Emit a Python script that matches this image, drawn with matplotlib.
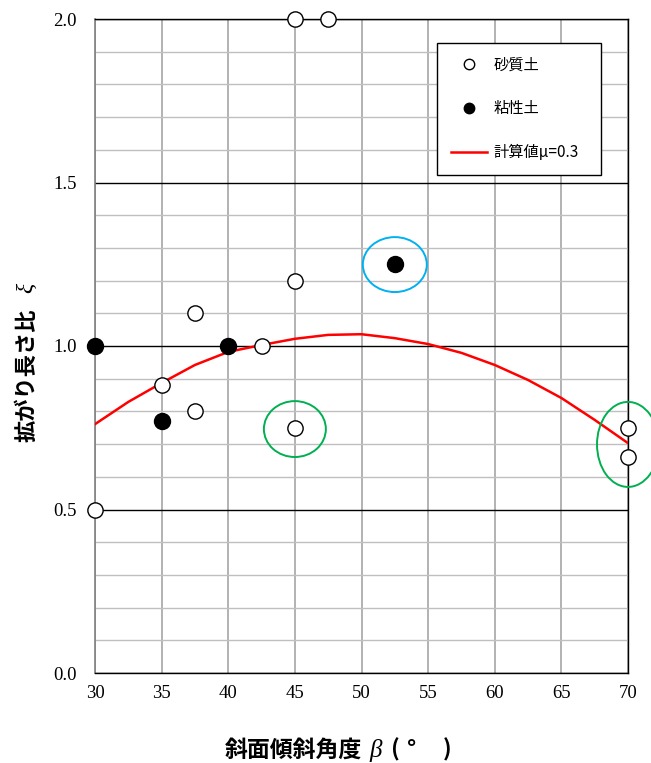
import numpy as np
import matplotlib
matplotlib.use('Agg')
import matplotlib.pyplot as plt
from matplotlib.patches import Ellipse
from matplotlib.lines import Line2D

# 砂質土 (open circles)
sand_x = [30, 35, 37.5, 37.5, 42.5, 45, 47.5, 45, 45, 70, 70]
sand_y = [0.50, 0.88, 1.10, 0.80, 1.00, 2.00, 2.00, 1.20, 0.75, 0.75, 0.66]
# 粘性土 (filled circles)
clay_x = [30, 35, 40, 52.5]
clay_y = [1.00, 0.77, 1.00, 1.25]
# 計算値 μ=0.3
calc_x = [30, 32.5, 35, 37.5, 40, 42.5, 45, 47.5, 50, 52.5, 55, 57.5, 60, 62.5, 65, 67.5, 70]
calc_y = [0.761, 0.829, 0.887, 0.942, 0.982, 1.003, 1.022, 1.034, 1.036, 1.024,
          1.006, 0.979, 0.942, 0.896, 0.841, 0.774, 0.703]
# highlighted regions: (center x, center y, width, height, color)
rings = [(52.5, 1.249, 4.8, 0.168, '#00B0F0'),
         (45.0, 0.746, 4.65, 0.171, '#00B050'),
         (70.0, 0.699, 4.65, 0.260, '#00B050')]

CJK = ['Noto Sans CJK JP', 'DejaVu Sans']
SERIF = 'Liberation Serif'

fig = plt.figure(figsize=(6.51, 7.63), dpi=100)
ax = fig.add_axes([95/651, 1 - 673/763, 533/651, 654/763])

ax.set_xlim(30, 70)
ax.set_ylim(0, 2.0)
ax.set_xticks(np.arange(30, 71, 5))
ax.set_yticks(np.arange(0, 2.01, 0.5))
ax.set_yticks(np.arange(0, 2.01, 0.1), minor=True)
ax.set_yticklabels([f'{v:.1f}' for v in np.arange(0, 2.01, 0.5)])
ax.tick_params(axis='both', which='both', length=0, labelsize=13.5)
ax.tick_params(axis='y', pad=13)
ax.tick_params(axis='x', pad=9)
for lab in ax.get_xticklabels() + ax.get_yticklabels():
    lab.set_fontfamily(SERIF)

ax.grid(axis='x', color='#A6A6A6', linewidth=1.2)
ax.grid(axis='y', which='minor', color='#BFBFBF', linewidth=1.0)
ax.grid(axis='y', which='major', color='black', linewidth=1.0)
ax.set_axisbelow(True)
for s in ['top', 'right', 'bottom']:
    ax.spines[s].set_color('black')
    ax.spines[s].set_linewidth(1.0)
ax.spines['left'].set_color('#808080')
ax.spines['left'].set_linewidth(1.2)

ax.plot(calc_x, calc_y, color='#FF0000', linewidth=1.8, zorder=3)
ax.plot(sand_x, sand_y, 'o', markersize=11, markerfacecolor='white',
        markeredgecolor='black', markeredgewidth=1.0, clip_on=False, zorder=4)
ax.plot(clay_x, clay_y, 'o', markersize=11.5, color='black', clip_on=False, zorder=4)

for cx, cy, w, h, c in rings:
    ax.add_patch(Ellipse((cx, cy), w, h, fill=False, edgecolor=c,
                         linewidth=1.4, clip_on=False, zorder=5))

handles = [Line2D([], [], marker='o', linestyle='none', markersize=7.5,
                  markerfacecolor='white', markeredgecolor='black'),
           Line2D([], [], marker='o', linestyle='none', markersize=7.5, color='black'),
           Line2D([], [], color='#FF0000', linewidth=1.8)]
leg = ax.legend(handles, ['砂質土', '粘性土', '計算値μ=0.3'],
                loc='upper left', bbox_to_anchor=(342/533, 1 - 24/654, 164/533, 0),
                mode='expand',
                prop={'family': CJK, 'size': 11}, frameon=True, fancybox=False,
                edgecolor='black', framealpha=1, labelspacing=1.75,
                handlelength=2.4, handletextpad=0.4, borderpad=0.9,
                borderaxespad=0)
leg.get_frame().set_linewidth(1.0)

fig.text(225/651, 1 - 750/763, '斜面傾斜角度', family=CJK, fontsize=16.5,
         fontweight='bold', ha='left', va='center')
fig.text(369/651, 1 - 751/763, 'β', family=SERIF, style='italic', fontsize=18,
         ha='left', va='center')
fig.text(391/651, 1 - 750/763, '(', family=CJK, fontsize=16.5,
         fontweight='bold', ha='left', va='center')
fig.text(407/651, 1 - 750/763, '°', family=CJK, fontsize=16.5,
         fontweight='bold', ha='left', va='center')
fig.text(443/651, 1 - 750/763, ')', family=CJK, fontsize=16.5,
         fontweight='bold', ha='left', va='center')

fig.text(27/651, 1 - 375/763, '拡がり長さ比', family=CJK, fontsize=16,
         fontweight='bold', rotation=90, ha='center', va='center')
fig.text(27/651, 1 - 288/763, 'ξ', family=SERIF, style='italic', fontsize=17,
         rotation=90, ha='center', va='center')

fig.savefig('out.png', dpi=100)
